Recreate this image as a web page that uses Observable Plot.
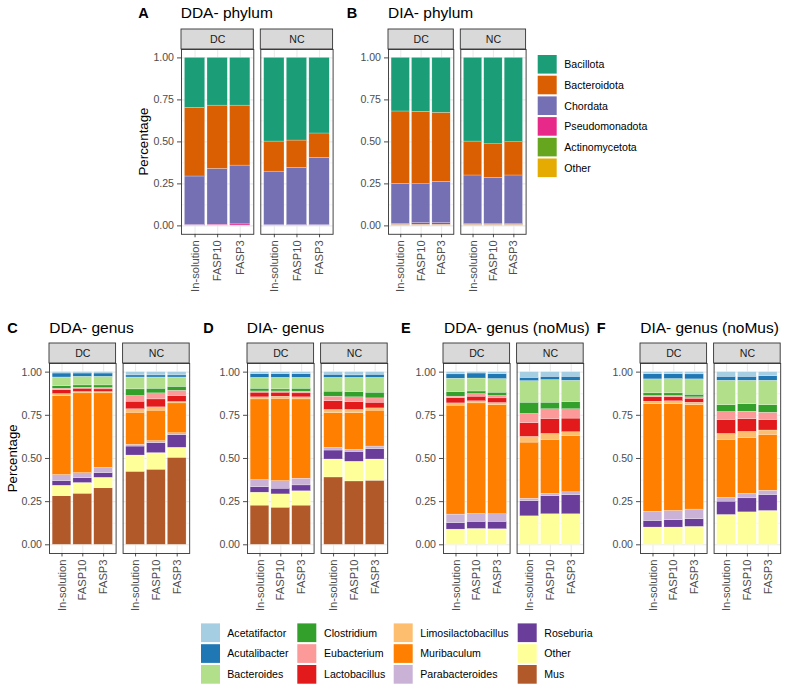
<!DOCTYPE html>
<html><head><meta charset="utf-8">
<script src="https://cdn.jsdelivr.net/npm/d3@7"></script>
<script src="https://cdn.jsdelivr.net/npm/@observablehq/plot@0.6"></script>
<style>
body{margin:0;background:#fff;}
#root{position:relative;width:787px;height:692px;overflow:hidden;font-family:"Liberation Sans",Arial,sans-serif;}
#root svg{position:absolute;}
#root [aria-label="x-axis"] text, #root [aria-label="x-axis tick label"] text{font-size:11.2px;}
</style></head><body><div id="root"></div>
<script>
// ---------- categories ----------
const samples = ["In-solution", "FASP10", "FASP3"];
const groups = ["DC", "NC"];
const yTicks = [0, 0.25, 0.5, 0.75, 1];
const phyla = ["Bacillota", "Bacteroidota", "Chordata", "Pseudomonadota", "Actinomycetota", "Other"];
const phylumColors = ["#1B9E77", "#D95F02", "#7570B3", "#E7298A", "#66A61E", "#E6AB02"];
const genera = ["Acetatifactor", "Acutalibacter", "Bacteroides", "Clostridium", "Eubacterium", "Lactobacillus",
  "Limosilactobacillus", "Muribaculum", "Parabacteroides", "Roseburia", "Other", "Mus"];
const genusColors = ["#A6CEE3", "#1F78B4", "#B2DF8A", "#33A02C", "#FB9A99", "#E31A1C",
  "#FDBF6F", "#FF7F00", "#CAB2D6", "#6A3D9A", "#FFFF99", "#B15928"];

// ---------- values (proportions, in legend order) ----------
const ddaPhylum = [
  ["DC", "In-solution", [0.298, 0.408, 0.289, 0.003, 0.001, 0.001]],
  ["DC", "FASP10",      [0.284, 0.377, 0.332, 0.005, 0.001, 0.001]],
  ["DC", "FASP3",       [0.284, 0.357, 0.350, 0.007, 0.001, 0.001]],
  ["NC", "In-solution", [0.498, 0.179, 0.319, 0.002, 0.001, 0.001]],
  ["NC", "FASP10",      [0.492, 0.163, 0.341, 0.002, 0.001, 0.001]],
  ["NC", "FASP3",       [0.450, 0.145, 0.401, 0.002, 0.001, 0.001]]
];
const diaPhylum = [
  ["DC", "In-solution", [0.319, 0.431, 0.237, 0.006, 0.002, 0.005]],
  ["DC", "FASP10",      [0.321, 0.431, 0.232, 0.009, 0.002, 0.005]],
  ["DC", "FASP3",       [0.327, 0.411, 0.246, 0.009, 0.002, 0.005]],
  ["NC", "In-solution", [0.498, 0.202, 0.290, 0.003, 0.002, 0.005]],
  ["NC", "FASP10",      [0.514, 0.200, 0.276, 0.003, 0.002, 0.005]],
  ["NC", "FASP3",       [0.502, 0.198, 0.290, 0.003, 0.002, 0.005]]
];
const ddaGenus = [
  ["DC", "In-solution", [0.008, 0.023, 0.050, 0.015, 0.008, 0.023, 0.011, 0.458, 0.035, 0.027, 0.061, 0.281]],
  ["DC", "FASP10",      [0.008, 0.019, 0.050, 0.013, 0.006, 0.019, 0.008, 0.462, 0.030, 0.027, 0.062, 0.296]],
  ["DC", "FASP3",       [0.008, 0.019, 0.050, 0.015, 0.008, 0.015, 0.008, 0.431, 0.031, 0.027, 0.061, 0.327]],
  ["NC", "In-solution", [0.019, 0.012, 0.069, 0.038, 0.033, 0.044, 0.020, 0.186, 0.010, 0.052, 0.094, 0.423]],
  ["NC", "FASP10",      [0.019, 0.012, 0.065, 0.027, 0.035, 0.046, 0.019, 0.177, 0.012, 0.057, 0.096, 0.435]],
  ["NC", "FASP3",       [0.019, 0.012, 0.054, 0.023, 0.030, 0.035, 0.008, 0.173, 0.011, 0.073, 0.058, 0.504]]
];
const diaGenus = [
  ["DC", "In-solution", [0.012, 0.021, 0.063, 0.016, 0.007, 0.027, 0.012, 0.467, 0.042, 0.031, 0.075, 0.227]],
  ["DC", "FASP10",      [0.012, 0.021, 0.067, 0.012, 0.007, 0.023, 0.012, 0.477, 0.044, 0.033, 0.077, 0.215]],
  ["DC", "FASP3",       [0.012, 0.021, 0.063, 0.017, 0.010, 0.023, 0.012, 0.459, 0.039, 0.034, 0.083, 0.227]],
  ["NC", "In-solution", [0.015, 0.018, 0.080, 0.029, 0.027, 0.050, 0.019, 0.200, 0.016, 0.052, 0.104, 0.390]],
  ["NC", "FASP10",      [0.019, 0.014, 0.082, 0.031, 0.027, 0.046, 0.019, 0.212, 0.012, 0.057, 0.114, 0.367]],
  ["NC", "FASP3",       [0.015, 0.018, 0.086, 0.033, 0.025, 0.033, 0.013, 0.208, 0.015, 0.060, 0.123, 0.371]]
];
const ddaGenusNoMus = [
  ["DC", "In-solution", [0.013, 0.025, 0.077, 0.027, 0.008, 0.031, 0.013, 0.631, 0.050, 0.037, 0.088, 0]],
  ["DC", "FASP10",      [0.008, 0.029, 0.075, 0.015, 0.015, 0.027, 0.012, 0.640, 0.046, 0.041, 0.092, 0]],
  ["DC", "FASP3",       [0.012, 0.028, 0.079, 0.019, 0.014, 0.027, 0.013, 0.631, 0.044, 0.043, 0.090, 0]],
  ["NC", "In-solution", [0.033, 0.019, 0.125, 0.065, 0.054, 0.079, 0.033, 0.325, 0.015, 0.087, 0.165, 0]],
  ["NC", "FASP10",      [0.027, 0.019, 0.131, 0.038, 0.056, 0.087, 0.034, 0.312, 0.015, 0.104, 0.177, 0]],
  ["NC", "FASP3",       [0.027, 0.023, 0.123, 0.042, 0.054, 0.079, 0.021, 0.327, 0.017, 0.110, 0.177, 0]]
];
const diaGenusNoMus = [
  ["DC", "In-solution", [0.012, 0.030, 0.081, 0.015, 0.008, 0.025, 0.014, 0.623, 0.054, 0.038, 0.100, 0]],
  ["DC", "FASP10",      [0.012, 0.028, 0.083, 0.015, 0.008, 0.023, 0.016, 0.619, 0.054, 0.042, 0.100, 0]],
  ["DC", "FASP3",       [0.013, 0.029, 0.089, 0.015, 0.008, 0.023, 0.015, 0.604, 0.056, 0.044, 0.104, 0]],
  ["NC", "In-solution", [0.027, 0.023, 0.142, 0.039, 0.046, 0.081, 0.034, 0.335, 0.023, 0.077, 0.173, 0]],
  ["NC", "FASP10",      [0.027, 0.023, 0.135, 0.044, 0.044, 0.073, 0.035, 0.323, 0.027, 0.081, 0.188, 0]],
  ["NC", "FASP3",       [0.023, 0.027, 0.142, 0.043, 0.042, 0.061, 0.025, 0.324, 0.025, 0.092, 0.196, 0]]
];

// ---------- drawing ----------
const FONT = '"Liberation Sans", Arial, sans-serif';
const root = document.getElementById("root");

function drawPanel({data, taxa, colors, left, top, b, g, unit}) {
  const mL = 36, mR = 2, mT = 22, mB = 66;
  const ph = 1.1 * unit;
  const W = mL + 2 * b + g + mR, H = mT + ph + mB;
  const stackOrder = taxa.slice().reverse(); // bottom to top
  const rows = [];
  for (const [grp, smp, vals] of data) {
    stackOrder.forEach(t => {
      const v = vals[taxa.indexOf(t)];
      if (v > 0) rows.push({group: grp, sample: smp, taxon: t, value: v});
    });
  }
  const stripH = 20 / unit;
  const chart = Plot.plot({
    width: W, height: H,
    marginLeft: mL, marginRight: mR, marginTop: mT, marginBottom: mB,
    style: {fontFamily: FONT, fontSize: "10.6px", color: "#4D4D4D", background: "transparent", overflow: "visible"},
    fx: {domain: groups, paddingInner: g / (b + g), paddingOuter: 0, round: false, axis: null, label: null},
    x: {domain: samples, paddingInner: 0.1, paddingOuter: 0.15, round: false,
        tickSize: 3.5, tickPadding: 2.5, tickRotate: -90, label: null},
    y: {domain: [-0.05, 1.05], ticks: yTicks, tickFormat: d3.format(".2f"),
        tickSize: 4, tickPadding: 3.5, label: null},
    color: {domain: taxa, range: colors},
    marks: [
      Plot.ruleY([0.125, 0.375, 0.625, 0.875], {stroke: "#EBEBEB", strokeWidth: 0.6}),
      Plot.ruleY(yTicks, {stroke: "#EBEBEB", strokeWidth: 1.1}),
      Plot.ruleX(samples, {x: d => d, stroke: "#EBEBEB", strokeWidth: 1.1}),
      Plot.barY(rows, {fx: "group", x: "sample", y: "value", fill: "taxon",
        order: stackOrder, stroke: "white", strokeWidth: 0.35, strokeOpacity: 0.7}),
      Plot.frame({stroke: "#333333", strokeWidth: 0.9}),
      Plot.rect(groups, {fx: d => d, y1: 1.05, y2: 1.05 + stripH, fill: "#D9D9D9", stroke: "#333333", strokeWidth: 0.9}),
      Plot.text(groups, {fx: d => d, y: 1.05 + stripH / 2, text: d => d, fill: "#1A1A1A", fontSize: 10.6})
    ]
  });
  chart.style.left = (left - mL) + "px";
  chart.style.top = (top - mT) + "px";
  root.appendChild(chart);
}

const row1 = {top: 49.1, unit: 168, g: 7};
const row2 = {top: 363.4, unit: 172.7, g: 7, b: 66.6};
drawPanel({data: ddaPhylum, taxa: phyla, colors: phylumColors, left: 180.5, b: 72.3, ...row1});
drawPanel({data: diaPhylum, taxa: phyla, colors: phylumColors, left: 387.5, b: 65.3, ...row1});
drawPanel({data: ddaGenus, taxa: genera, colors: genusColors, left: 49.3, ...row2});
drawPanel({data: diaGenus, taxa: genera, colors: genusColors, left: 246.7, ...row2});
drawPanel({data: ddaGenusNoMus, taxa: genera, colors: genusColors, left: 442.8, ...row2});
drawPanel({data: diaGenusNoMus, taxa: genera, colors: genusColors, left: 640.2, ...row2});

// ---------- titles, labels, legends ----------
const svg = d3.select(root).append("svg")
  .attr("width", 787).attr("height", 692)
  .style("left", "0px").style("top", "0px")
  .attr("font-family", FONT);

const labels = [
  {t: "A", x: 138.3, y: 18.4}, {t: "B", x: 346.8, y: 18.4},
  {t: "C", x: 7.3, y: 332.7}, {t: "D", x: 203.3, y: 332.7},
  {t: "E", x: 401, y: 332.7}, {t: "F", x: 596.7, y: 332.7}
];
const titles = [
  {t: "DDA- phylum", x: 180.7, y: 18.4}, {t: "DIA- phylum", x: 388, y: 18.4},
  {t: "DDA- genus", x: 49.3, y: 332.7}, {t: "DIA- genus", x: 246.7, y: 332.7},
  {t: "DDA- genus (noMus)", x: 444, y: 332.7}, {t: "DIA- genus (noMus)", x: 640.2, y: 332.7}
];
svg.selectAll("text.lab").data(labels).join("text")
  .attr("x", d => d.x).attr("y", d => d.y).attr("font-size", 14.5).attr("font-weight", "bold")
  .attr("fill", "black").text(d => d.t);
svg.selectAll("text.tit").data(titles).join("text")
  .attr("x", d => d.x).attr("y", d => d.y).attr("font-size", 15.5)
  .attr("fill", "black").text(d => d.t);

const yTitles = [{x: 148, y: 141.5}, {x: 16.5, y: 458.3}];
yTitles.forEach(p => svg.append("text")
  .attr("transform", `translate(${p.x},${p.y}) rotate(-90)`)
  .attr("text-anchor", "middle").attr("font-size", 13.3).attr("fill", "black").text("Percentage"));

// phylum legend
phyla.forEach((p, i) => {
  const top = 55 + i * 20.7;
  svg.append("rect").attr("x", 537.7).attr("y", top).attr("width", 19).attr("height", 18.6).attr("fill", phylumColors[i]);
  svg.append("text").attr("x", 564.3).attr("y", top + 9.3 + 3.8).attr("font-size", 10.6).attr("fill", "black").text(p);
});
// genus legend (4 columns, column-major)
const keyX = [201, 297.3, 393.7, 517.7];
const textX = [227.3, 324, 420.3, 544.3];
genera.forEach((gname, i) => {
  const c = Math.floor(i / 3), r = i % 3;
  const top = 623.4 + r * 20.8;
  svg.append("rect").attr("x", keyX[c]).attr("y", top).attr("width", 19).attr("height", 18.7).attr("fill", genusColors[i]);
  svg.append("text").attr("x", textX[c]).attr("y", top + 9.35 + 3.8).attr("font-size", 10.6).attr("fill", "black").text(gname);
});
</script>
</body></html>
